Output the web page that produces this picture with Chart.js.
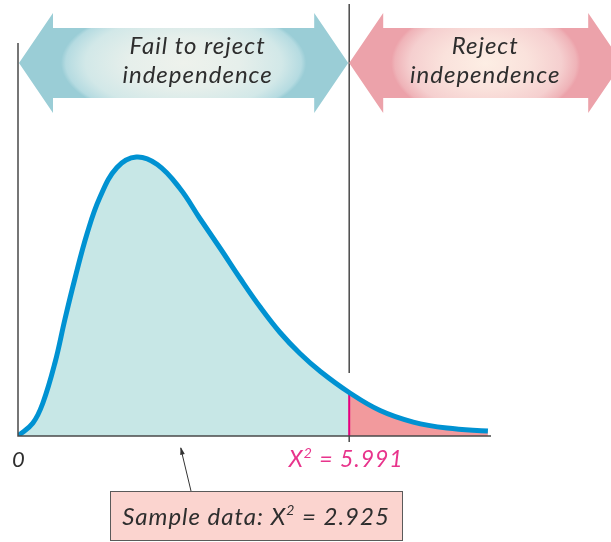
<!DOCTYPE html>
<html>
<head>
<meta charset="utf-8">
<script src="https://cdn.jsdelivr.net/npm/chart.js@4.4.1/dist/chart.umd.min.js"></script>
<style>
  html, body { margin: 0; background: #fff; }
  canvas { display: block; }
</style>
</head>
<body>
<canvas id="chi" width="611" height="542"></canvas>
<script>
// chi-square density, sampled along the curve
const curveX = [0, 0.27, 0.45, 0.67, 0.85, 1.03, 1.25, 1.48, 1.79, 2.14, 2.52, 2.93, 3.29, 3.66, 4.02, 4.38, 4.74, 5.10, 5.47, 5.991, 6.55, 7.15, 7.76, 8.5];
const curveY = [0, 0.0087, 0.022, 0.049, 0.078, 0.105, 0.135, 0.159, 0.179, 0.186, 0.181, 0.165, 0.145, 0.125, 0.105, 0.086, 0.069, 0.055, 0.043, 0.029, 0.017, 0.0093, 0.0053, 0.0033];
const critical = 5.991;
const sampleStat = 2.925;
const regionLabels = [['Fail to reject', 'independence'], ['Reject', 'independence']];
const zeroLabel = '0';

const points = curveX.map((x, i) => ({ x, y: curveY[i] }));
const leftPart = points.filter(p => p.x <= critical);
const rightPart = points.filter(p => p.x >= critical);
const critY = curveY[curveX.indexOf(critical)];

const INK = '#2e2e2e';
const AXIS = '#4a4a4a';
const MAGENTA = '#e6007e';
const FONT = '"Lato", "Open Sans", sans-serif';

// text with a "2" superscript after X
function drawChiText(ctx, parts, x, y, size, color, align) {
  ctx.save();
  ctx.fillStyle = color;
  ctx.textBaseline = 'alphabetic';
  ctx.textAlign = 'left';
  ctx.letterSpacing = '1px';
  const big = `italic ${size}px ${FONT}`;
  const small = `italic ${Math.round(size * 0.6)}px ${FONT}`;
  let w = 0;
  parts.forEach(p => { ctx.font = p.sup ? small : big; w += ctx.measureText(p.t).width; });
  let cx = align === 'center' ? x - w / 2 : x;
  parts.forEach(p => {
    ctx.font = p.sup ? small : big;
    ctx.fillText(p.t, cx, p.sup ? y - size * 0.4 : y);
    cx += ctx.measureText(p.t).width;
  });
  ctx.restore();
}

function arrowPath(ctx, x0, x1, cy, head, hh, sh) {
  ctx.beginPath();
  ctx.moveTo(x0, cy);
  ctx.lineTo(x0 + head, cy - hh);
  ctx.lineTo(x0 + head, cy - sh);
  ctx.lineTo(x1 - head, cy - sh);
  ctx.lineTo(x1 - head, cy - hh);
  ctx.lineTo(x1, cy);
  ctx.lineTo(x1 - head, cy + hh);
  ctx.lineTo(x1 - head, cy + sh);
  ctx.lineTo(x0 + head, cy + sh);
  ctx.lineTo(x0 + head, cy + hh);
  ctx.closePath();
}

function drawBand(ctx, x0, x1, cy, solid, stops, lines, textCx) {
  const head = 34, hh = 50, sh = 35;
  ctx.save();
  arrowPath(ctx, x0, x1, cy, head, hh, sh);
  ctx.fillStyle = solid;
  ctx.fill();
  // glowing middle of the shaft
  ctx.beginPath();
  ctx.rect(x0 + head, cy - sh, x1 - x0 - 2 * head, 2 * sh);
  ctx.clip();
  const mid = (x0 + x1) / 2;
  const rx = (x1 - x0 - 2 * head) / 2 - 8;
  const ry = 58;
  ctx.translate(mid, cy);
  ctx.scale(rx / ry, 1);
  const g = ctx.createRadialGradient(0, 0, 0, 0, 0, ry);
  stops.forEach(s => g.addColorStop(s[0], s[1]));
  ctx.fillStyle = g;
  ctx.fillRect(-ry * 2, -ry, ry * 4, ry * 2);
  ctx.restore();

  ctx.save();
  ctx.fillStyle = INK;
  ctx.font = `italic 24px ${FONT}`;
  ctx.letterSpacing = '1px';
  ctx.textAlign = 'center';
  ctx.textBaseline = 'alphabetic';
  ctx.fillText(lines[0], textCx, cy - 9);
  ctx.fillText(lines[1], textCx, cy + 20);
  ctx.restore();
}

const decor = {
  id: 'decor',
  afterDatasetsDraw(chart) {
    const { ctx, chartArea, scales: { x, y } } = chart;
    const x0 = x.getPixelForValue(0);
    const xc = x.getPixelForValue(critical);
    const base = y.getPixelForValue(0);

    ctx.save();
    ctx.strokeStyle = AXIS;
    ctx.lineWidth = 1.5;
    ctx.beginPath();
    // axes
    ctx.moveTo(x0, chartArea.top);
    ctx.lineTo(x0, base);
    ctx.lineTo(chartArea.right, base);
    // critical value divider and tick
    ctx.moveTo(xc, 4);
    ctx.lineTo(xc, 373);
    ctx.moveTo(xc, base);
    ctx.lineTo(xc, base + 6);
    ctx.stroke();
    ctx.restore();

    // decision regions
    drawBand(ctx, x0 + 1, xc - 1, 63, '#9acdd6',
      [[0, '#eef2ec'], [0.45, '#e6efeb'], [0.8, '#d2e8e8'], [0.96, '#b5dbe1'], [1, '#9acdd6']],
      regionLabels[0], (x0 + xc) / 2 + 14);
    drawBand(ctx, xc, xc + 273, 63, '#eca2aa',
      [[0, '#fdeee4'], [0.45, '#fae2dc'], [0.8, '#f5cfcf'], [0.96, '#efb3b8'], [1, '#eca2aa']],
      regionLabels[1], xc + 136);

    // axis labels
    drawChiText(ctx, [{ t: zeroLabel }], x0 - 6, base + 31, 22, INK, 'left');
    drawChiText(ctx, [{ t: 'X' }, { t: '2', sup: true }, { t: ' = ' + critical.toFixed(3) }],
      xc - 3, base + 31, 23, '#e8348c', 'center');

    // sample statistic callout
    const xs = x.getPixelForValue(sampleStat);
    const bx = 110, by = 491, bw = 292, bh = 49;
    ctx.save();
    ctx.strokeStyle = '#333';
    ctx.fillStyle = '#333';
    ctx.lineWidth = 1;
    ctx.beginPath();
    ctx.moveTo(bx + 81, by);
    ctx.lineTo(xs + 1, base + 12);
    ctx.stroke();
    const ang = Math.atan2(base + 12 - by, xs + 1 - (bx + 81));
    ctx.beginPath();
    ctx.moveTo(xs + 1, base + 11);
    ctx.lineTo(xs + 1 - 8 * Math.cos(ang - 0.3), base + 11 - 8 * Math.sin(ang - 0.3));
    ctx.lineTo(xs + 1 - 8 * Math.cos(ang + 0.3), base + 11 - 8 * Math.sin(ang + 0.3));
    ctx.closePath();
    ctx.fill();
    ctx.fillStyle = '#fbd4cf';
    ctx.strokeStyle = '#5a5a5a';
    ctx.fillRect(bx, by, bw, bh);
    ctx.strokeRect(bx + 0.5, by + 0.5, bw, bh);
    ctx.restore();
    drawChiText(ctx, [{ t: 'Sample data: X' }, { t: '2', sup: true }, { t: ' = ' + sampleStat.toFixed(3) }],
      bx + bw / 2, by + 34, 24, INK, 'center');
  }
};

new Chart(document.getElementById('chi'), {
  type: 'line',
  data: {
    datasets: [
      {
        data: points, borderColor: '#0092d2', borderWidth: 5, fill: false,
        pointRadius: 0, tension: 0.4, order: 0
      },
      {
        data: [{ x: critical, y: 0 }, { x: critical, y: critY }], borderColor: MAGENTA,
        borderWidth: 2, fill: false, pointRadius: 0, order: 1
      },
      {
        data: leftPart, borderWidth: 0, borderColor: 'rgba(0,0,0,0)', backgroundColor: '#c7e7e6',
        fill: 'origin', pointRadius: 0, tension: 0.4, order: 2
      },
      {
        data: rightPart, borderWidth: 0, borderColor: 'rgba(0,0,0,0)', backgroundColor: '#f29a9d',
        fill: 'origin', pointRadius: 0, tension: 0.4, order: 2
      }
    ]
  },
  options: {
    responsive: false,
    devicePixelRatio: 1,
    animation: false,
    layout: { padding: { left: 18, right: 120, top: 43, bottom: 106 } },
    scales: {
      x: { type: 'linear', min: 0, max: 8.556, display: false },
      y: { min: 0, max: 0.262, display: false }
    },
    plugins: { legend: { display: false }, tooltip: { enabled: false } }
  },
  plugins: [decor]
});
</script>
</body>
</html>
